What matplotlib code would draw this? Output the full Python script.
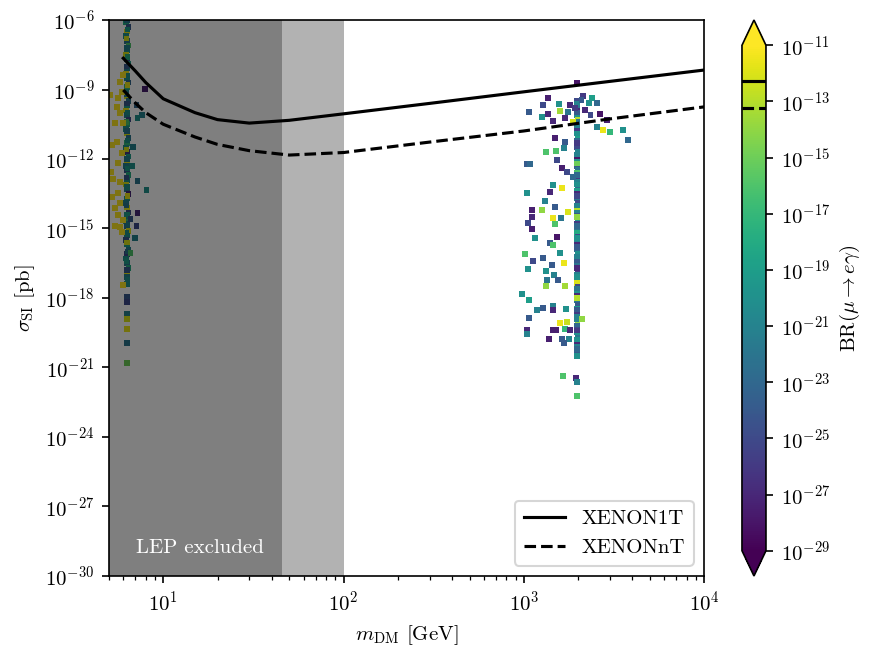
import numpy as np
import matplotlib.pyplot as plt
from matplotlib.colors import LogNorm

plt.rcParams['font.family'] = 'serif'
plt.rcParams['font.serif'] = ['cmr10']
plt.rcParams['mathtext.fontset'] = 'cm'
plt.rcParams['axes.unicode_minus'] = False
plt.rcParams['axes.formatter.use_mathtext'] = True

# direct detection limits (mass in GeV, log10 sigma in pb)
xe_mass = [6, 7, 8, 10, 15, 20, 30, 50, 100, 300, 1000, 3000, 10000]
xenon1t = [-7.65, -8.2, -8.7, -9.4, -10.0, -10.3, -10.45, -10.33, -10.05, -9.6, -9.1, -8.65, -8.16]
xenonnt = [-9.02, -9.58, -10.0, -10.5, -11.05, -11.37, -11.64, -11.83, -11.72, -11.27, -10.79, -10.27, -9.75]

# MEG bounds on BR(mu -> e gamma)
meg = 5.2e-13
meg2 = 6e-14

# scan points: (mass, log10 sigma, log10 BR)
low_column = [
    (6.3, -5.9, -20), (6.2, -6.1, -18), (6.4, -6.3, -24), (6.3, -6.5, -11.5), (6.2, -6.7, -20),
    (6.3, -6.9, -22), (6.4, -7.1, -16), (6.3, -7.3, -20), (6.2, -7.5, -12), (6.3, -7.7, -25),
    (6.4, -7.9, -19), (6.3, -8.1, -21), (6.2, -8.3, -11.5), (6.3, -8.5, -20), (6.4, -8.7, -23),
    (6.3, -8.9, -17), (6.2, -9.1, -20), (6.3, -9.3, -12), (6.4, -9.5, -22), (6.3, -9.7, -19),
    (6.2, -9.9, -11.5), (6.3, -10.1, -21), (6.4, -10.3, -25), (6.3, -10.5, -18), (6.2, -10.7, -20),
    (6.3, -10.9, -12), (6.4, -11.1, -22), (6.3, -11.3, -17), (6.2, -11.5, -20), (6.3, -11.7, -26),
    (6.4, -11.9, -19), (6.3, -12.1, -11.5), (6.2, -12.3, -21), (6.3, -12.5, -24), (6.4, -12.7, -18),
    (6.3, -12.9, -20), (6.2, -13.1, -12), (6.3, -13.3, -22), (6.4, -13.5, -27), (6.3, -13.7, -19),
    (6.2, -13.9, -21), (6.3, -14.1, -11.5), (6.4, -14.3, -25), (6.3, -14.5, -20), (6.2, -14.7, -17),
    (6.3, -14.9, -22), (6.4, -15.1, -12), (6.3, -15.3, -20), (6.2, -15.5, -24), (6.3, -15.7, -19),
    (6.4, -15.9, -21), (6.3, -16.1, -25), (6.2, -16.3, -20), (6.3, -16.5, -22), (6.4, -16.7, -18),
    (6.3, -16.9, -11.5), (6.3, -17.1, -21), (6.3, -17.4, -20), (6.3, -17.95, -24), (6.3, -18.17, -25),
    (6.3, -18.69, -21), (6.3, -18.9, -12), (6.3, -19.34, -11.5), (6.3, -19.94, -22), (6.3, -20.8, -15),
    (6.3, -6.0, -22), (6.35, -6.4, -19), (6.25, -6.8, -12), (6.3, -7.2, -21), (6.35, -7.6, -18),
    (6.25, -8.0, -24), (6.3, -8.4, -20), (6.35, -8.8, -11.5), (6.25, -9.2, -21), (6.3, -9.6, -24),
    (6.35, -10.0, -20), (6.25, -10.4, -16), (6.3, -10.8, -22), (6.35, -11.2, -20), (6.25, -11.6, -12),
    (6.3, -12.0, -21), (6.35, -12.4, -19), (6.25, -12.8, -24), (6.3, -13.2, -20), (6.35, -13.6, -11.5),
    (6.25, -14.0, -22), (6.3, -14.4, -19), (6.35, -14.8, -21), (6.25, -15.2, -20), (6.3, -15.6, -12),
    (6.35, -16.0, -22), (6.25, -16.4, -19), (6.3, -16.8, -24), (6.35, -17.2, -20),
]

low_scatter = [
    (7.9, -8.98, -27.5), (7.1, -9.67, -23), (7.6, -10.10, -21), (7.2, -10.23, -20), (6.8, -11.48, -21),
    (6.7, -12.30, -20), (7.2, -12.95, -22), (8.1, -13.34, -20), (7.2, -14.33, -27), (7.1, -14.89, -25),
    (6.95, -15.41, -21), (6.6, -14.6, -24), (6.6, -16.06, -16),
    (5.97, -8.37, -10.5), (5.74, -8.68, -10.5), (5.06, -9.24, -10.5), (5.6, -9.37, -10.5),
    (5.89, -9.11, -10.5), (5.53, -9.75, -10.5), (5.74, -10.01, -10.5), (5.39, -10.45, -10.5),
    (5.97, -10.45, -10.5), (5.19, -11.39, -10.5), (5.53, -11.27, -10.5), (5.89, -11.74, -10.5),
    (5.6, -12.17, -10.5), (5.13, -12.56, -10.5), (5.26, -12.86, -10.5), (5.74, -12.99, -10.5),
    (5.6, -13.47, -10.5), (5.19, -13.64, -10.5), (5.74, -13.90, -10.5), (5.39, -14.11, -10.5),
    (5.6, -14.42, -10.5), (5.97, -14.63, -10.5), (5.39, -14.89, -10.5), (5.74, -14.93, -10.5),
    (5.89, -15.15, -10.5), (5.97, -17.44, -10.5),
]

high_column = [
    (1977, -9.5, -25), (1977, -9.7, -22), (1970, -9.9, -27), (1977, -10.1, -20), (1985, -10.3, -13),
    (1977, -10.45, -24), (1970, -10.6, -21), (1977, -10.8, -26), (1985, -11.0, -19), (1977, -11.2, -23),
    (1970, -11.35, -14), (1977, -11.5, -25), (1985, -11.7, -21), (1977, -11.9, -28), (1970, -12.1, -20),
    (1977, -12.3, -24), (1985, -12.45, -22), (1977, -12.6, -16), (1970, -12.8, -26), (1977, -13.0, -21),
    (1985, -13.2, -23), (1977, -13.35, -19), (1970, -13.5, -27), (1977, -13.7, -22), (1985, -13.9, -25),
    (1977, -14.1, -13), (1970, -14.3, -21), (1977, -14.45, -24), (1985, -14.6, -20), (1977, -14.8, -26),
    (1970, -15.0, -22), (1977, -15.2, -18), (1985, -15.35, -25), (1977, -15.5, -21), (1970, -15.7, -27),
    (1977, -15.9, -23), (1985, -16.1, -20), (1977, -16.3, -15), (1970, -16.45, -24), (1977, -16.6, -22),
    (1985, -16.8, -26), (1977, -17.0, -21), (1970, -17.2, -23), (1977, -17.35, -12), (1985, -17.5, -25),
    (1977, -17.7, -20), (1970, -17.9, -27), (1977, -18.1, -22), (1985, -18.3, -24), (1977, -18.45, -19),
    (1970, -18.6, -26), (1977, -18.8, -21), (1985, -19.0, -14), (1977, -19.2, -23), (1970, -19.35, -25),
    (1977, -19.5, -20), (1985, -19.7, -22), (1977, -19.9, -27), (1970, -20.1, -21), (1977, -20.3, -24),
    (1977, -20.5, -20),
    (1977, -9.6, -21), (1977, -10.0, -24), (1977, -10.4, -22), (1977, -10.9, -20), (1977, -11.3, -26),
    (1977, -11.8, -21), (1977, -12.2, -15), (1977, -12.7, -23), (1977, -13.1, -20), (1977, -13.6, -25),
    (1977, -14.0, -21), (1977, -14.5, -14), (1977, -14.9, -23), (1977, -15.4, -20), (1977, -15.8, -24),
    (1977, -16.2, -21), (1977, -16.7, -27), (1977, -17.1, -20), (1977, -17.6, -22), (1977, -18.0, -13),
    (1977, -18.5, -24), (1977, -18.9, -21), (1977, -19.4, -26), (1977, -19.8, -20), (1977, -20.2, -23),
]

high_scatter = [
    (1977, -8.72, -28), (1365, -9.37, -27.5), (1279, -9.67, -25), (1072, -9.97, -24), (1570, -9.63, -20),
    (1592, -9.93, -13.5), (1265, -10.19, -20), (1455, -10.36, -27), (1762, -9.97, -22), (2133, -9.28, -26),
    (2393, -9.37, -19), (2553, -9.58, -23), (2655, -10.06, -28), (2904, -10.32, -27.5), (2754, -10.75, -11.5),
    (3013, -10.83, -17), (3556, -10.75, -20), (3793, -11.18, -23), (2553, -10.62, -21), (1493, -11.09, -27.5),
    (1698, -11.27, -24), (1330, -11.70, -16), (1514, -11.65, -16), (1675, -11.52, -21), (1045, -12.21, -24),
    (1084, -12.21, -23), (1531, -12.04, -25), (1633, -12.39, -27.5), (1742, -12.56, -25), (1879, -12.78, -23),
    (1455, -13.12, -20), (1633, -13.25, -11.5), (1400, -13.42, -27), (1045, -13.47, -20), (1312, -13.81, -21),
    (1493, -14.07, -24), (1265, -14.20, -14), (1112, -14.20, -27.5), (1112, -14.50, -27), (1455, -14.55, -11.5),
    (1493, -14.80, -16), (1057, -14.76, -25), (1112, -15.02, -27.5), (1611, -14.55, -22), (1762, -14.29, -12),
    (1156, -15.41, -20), (1400, -15.62, -24), (1455, -15.71, -16), (1531, -15.37, -28), (1019, -16.10, -16),
    (1127, -16.40, -25), (1435, -16.57, -24), (1675, -16.49, -11.5), (1592, -16.06, -20), (1279, -16.27, -24),
    (1057, -16.75, -20), (1330, -16.83, -20), (1472, -17.01, -21), (1349, -17.22, -22), (1552, -17.22, -24),
    (1330, -17.48, -14), (1698, -17.48, -13.5), (979, -17.83, -20), (1072, -18.08, -19), (1186, -18.52, -21),
    (1279, -18.43, -24), (1455, -18.34, -21), (1455, -18.52, -27), (1718, -18.47, -20), (1072, -18.86, -24),
    (1592, -19.08, -11.5), (1742, -19.03, -12.5), (2109, -18.90, -14), (1045, -19.38, -27), (1045, -19.55, -21),
    (1455, -19.38, -27.5), (1514, -19.38, -27.5), (1698, -19.34, -17), (1807, -19.38, -27), (1384, -19.77, -27.5),
    (1633, -19.77, -24), (1786, -19.77, -21), (1675, -19.94, -24), (1652, -21.36, -16), (1954, -21.45, -27),
    (1977, -21.62, -21), (1977, -22.23, -16),
    (1807, -9.67, -27), (1930, -9.80, -26), (2180, -9.88, -27), (2340, -10.1, -25), (1698, -10.23, -27),
    (1880, -10.40, -12), (2090, -9.45, -24), (2300, -9.58, -20), (1365, -10.06, -27),
]


def main():
    fig = plt.figure(figsize=(5.84, 4.36), dpi=150)
    ax = fig.add_axes([0.1244, 0.1193, 0.6793, 0.8501])
    cax = fig.add_axes([0.847, 0.1193, 0.0274, 0.8501])

    norm = LogNorm(vmin=1e-29, vmax=1e-11)
    pts = np.array(low_column + low_scatter + high_column + high_scatter)
    sc = ax.scatter(pts[:, 0], 10.0 ** pts[:, 1], c=10.0 ** pts[:, 2], cmap='viridis', norm=norm,
                    marker='s', s=7, linewidths=0, zorder=2)

    ax.axvspan(5, 45.6, color='k', alpha=0.5, lw=0, zorder=3)
    ax.axvspan(45.6, 100, color='k', alpha=0.3, lw=0, zorder=3)
    ax.text(16, 10.0 ** -28.8, 'LEP excluded', color='white', ha='center', va='center', fontsize=10, zorder=5)

    ax.plot(xe_mass, 10.0 ** np.array(xenon1t), 'k-', lw=1.5, label='XENON1T', zorder=4)
    ax.plot(xe_mass, 10.0 ** np.array(xenonnt), 'k--', lw=1.5, label='XENONnT', zorder=4)

    ax.set_xscale('log')
    ax.set_yscale('log')
    ax.set_xlim(5, 1e4)
    ax.set_ylim(1e-30, 1e-6)
    ax.set_yticks([10.0 ** k for k in range(-30, -5, 3)])
    ax.yaxis.set_minor_locator(plt.NullLocator())
    ax.set_xlabel(r'$m_{\rm DM}$ [GeV]')
    ax.set_ylabel(r'$\sigma_{\rm SI}$ [pb]')
    ax.legend(loc='lower right')

    cbar = fig.colorbar(sc, cax=cax, extend='both')
    cbar.set_ticks([10.0 ** k for k in range(-29, -10, 2)])
    cbar.ax.minorticks_off()
    cbar.set_label(r'$\mathrm{BR}(\mu\to e\gamma)$')
    cbar.ax.axhline(meg, color='k', lw=1.5)
    cbar.ax.axhline(meg2, color='k', lw=1.5, ls='--')

    plt.savefig('out.png', dpi=150)


if __name__ == '__main__':
    main()
